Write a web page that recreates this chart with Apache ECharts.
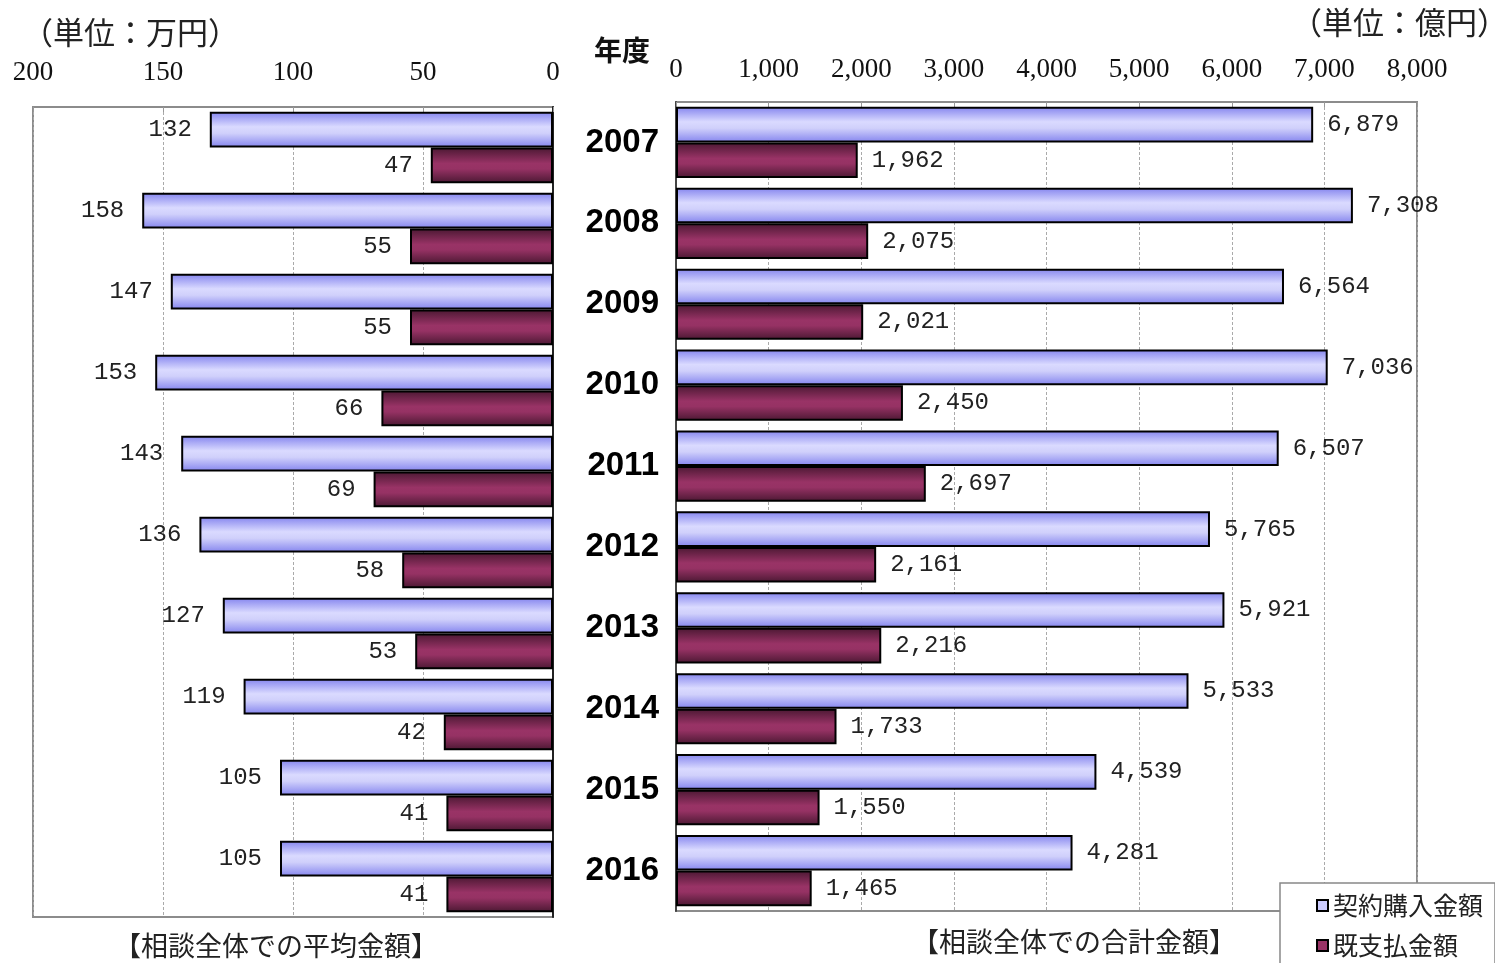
<!DOCTYPE html>
<html><head><meta charset="utf-8">
<script src="https://cdn.jsdelivr.net/npm/echarts@6/dist/echarts.min.js"></script>
<style>html,body{margin:0;padding:0;background:#fff}#c{width:1495px;height:963px}</style>
</head><body><div id="c"></div>
<script>
const years = ['2007','2008','2009','2010','2011','2012','2013','2014','2015','2016'];
const avgPurchase = [132,158,147,153,143,136,127,119,105,105];
const avgPaid = [47,55,55,66,69,58,53,42,41,41];
const totalPurchase = [6879,7308,6564,7036,6507,5765,5921,5533,4539,4281];
const totalPaid = [1962,2075,2021,2450,2697,2161,2216,1733,1550,1465];
const leftTicks = [0,50,100,150,200];
const rightTicks = [0,1000,2000,3000,4000,5000,6000,7000,8000];
const nameA = '契約購入金額', nameB = '既支払金額';

function fmt(v){return String(v).replace(/\B(?=(\d{3})+(?!\d))/g, ',');}
const blueGrad = new echarts.graphic.LinearGradient(0,0,0,1,[
  {offset:0,color:'#8484ee'},{offset:0.42,color:'#dadaff'},{offset:0.6,color:'#d0d0fb'},{offset:1,color:'#8484ee'}]);
const redGrad = new echarts.graphic.LinearGradient(0,0,0,1,[
  {offset:0,color:'#4a1832'},{offset:0.45,color:'#993366'},{offset:0.6,color:'#963264'},{offset:1,color:'#4a1832'}]);
const labFont = {fontFamily:'Liberation Mono', fontSize:24, color:'#222'};
const tickFont = {fontFamily:'Liberation Serif', fontSize:27, color:'#111'};
const cjk = 'Noto Sans CJK JP';

const chart = echarts.init(document.getElementById('c'));
chart.setOption({
  animation:false,
  grid:[
    {left:33, top:107, width:520, height:810, show:true, borderColor:'#8c8c8c', borderWidth:2, backgroundColor:'#fff'},
    {left:676, top:102, width:741, height:809, show:true, borderColor:'#8c8c8c', borderWidth:2, backgroundColor:'#fff'}
  ],
  xAxis:[
    {gridIndex:0, type:'value', min:0, max:200, interval:50, inverse:true, position:'top',
     axisLine:{show:false}, axisTick:{show:true, inside:true, length:5, lineStyle:{color:'#999'}},
     axisLabel:Object.assign({margin:21, formatter:v=>leftTicks.includes(v)?String(v):''}, tickFont),
     splitLine:{show:true, lineStyle:{color:'#aaa', type:[3,2], width:1}}},
    {gridIndex:1, type:'value', min:0, max:8000, interval:1000, position:'top',
     axisLine:{show:false}, axisTick:{show:true, inside:true, length:5, lineStyle:{color:'#999'}},
     axisLabel:Object.assign({margin:19, formatter:v=>rightTicks.includes(v)?fmt(v):''}, tickFont),
     splitLine:{show:true, lineStyle:{color:'#aaa', type:[3,2], width:1}}}
  ],
  yAxis:[
    {gridIndex:0, type:'category', data:years, inverse:true, position:'right',
     axisLine:{show:true, lineStyle:{color:'#222', width:2}}, axisTick:{show:false}, axisLabel:{show:false}},
    {gridIndex:1, type:'category', data:years, inverse:true, position:'left',
     axisLine:{show:true, lineStyle:{color:'#444', width:2}}, axisTick:{show:false},
     axisLabel:{show:true, margin:17, fontFamily:'Liberation Sans', fontWeight:'bold', fontSize:33, color:'#000'}}
  ],
  legend:{
    right:0, top:883, height:200, orient:'vertical', itemWidth:11, itemHeight:11, itemGap:15,
    padding:[10,12,10,36], backgroundColor:'#fff', borderColor:'#888', borderWidth:1.5,
    textStyle:{fontFamily:cjk, fontSize:25, color:'#222'},
    data:[{name:nameA, icon:'rect', itemStyle:{color:'#ccccff', borderColor:'#000', borderWidth:2}},
          {name:nameB, icon:'rect', itemStyle:{color:'#993366', borderColor:'#000', borderWidth:2}}]
  },
  series:[
    {name:nameA, type:'bar', xAxisIndex:0, yAxisIndex:0, data:avgPurchase, barGap:'0%', barCategoryGap:'12%',
     itemStyle:{color:blueGrad, borderColor:'#000', borderWidth:2},
     label:Object.assign({show:true, position:'left', distance:18}, labFont)},
    {name:nameB, type:'bar', xAxisIndex:0, yAxisIndex:0, data:avgPaid, barGap:'0%', barCategoryGap:'12%',
     itemStyle:{color:redGrad, borderColor:'#000', borderWidth:2},
     label:Object.assign({show:true, position:'left', distance:18}, labFont)},
    {name:nameA, type:'bar', xAxisIndex:1, yAxisIndex:1, data:totalPurchase, barGap:'0%', barCategoryGap:'12%',
     itemStyle:{color:blueGrad, borderColor:'#000', borderWidth:2},
     label:Object.assign({show:true, position:'right', distance:14, formatter:p=>fmt(p.value)}, labFont)},
    {name:nameB, type:'bar', xAxisIndex:1, yAxisIndex:1, data:totalPaid, barGap:'0%', barCategoryGap:'12%',
     itemStyle:{color:redGrad, borderColor:'#000', borderWidth:2},
     label:Object.assign({show:true, position:'right', distance:14, formatter:p=>fmt(p.value)}, labFont)}
  ],
  graphic:[
    {type:'text', left:22, top:17, style:{text:'（単位：万円）', font:'31px "Noto Sans CJK JP"', fill:'#222'}},
    {type:'text', right:-13, top:7, style:{text:'（単位：億円）', font:'31px "Noto Sans CJK JP"', fill:'#222'}},
    {type:'text', left:594, top:36, style:{text:'年度', font:'bold 28px "Noto Sans CJK JP"', fill:'#111'}},
    {type:'text', left:114, top:932, style:{text:'【相談全体での平均金額】', font:'27px "Noto Sans CJK JP"', fill:'#222'}},
    {type:'text', left:912, top:928, style:{text:'【相談全体での合計金額】', font:'27px "Noto Sans CJK JP"', fill:'#222'}}
  ]
});
</script></body></html>
